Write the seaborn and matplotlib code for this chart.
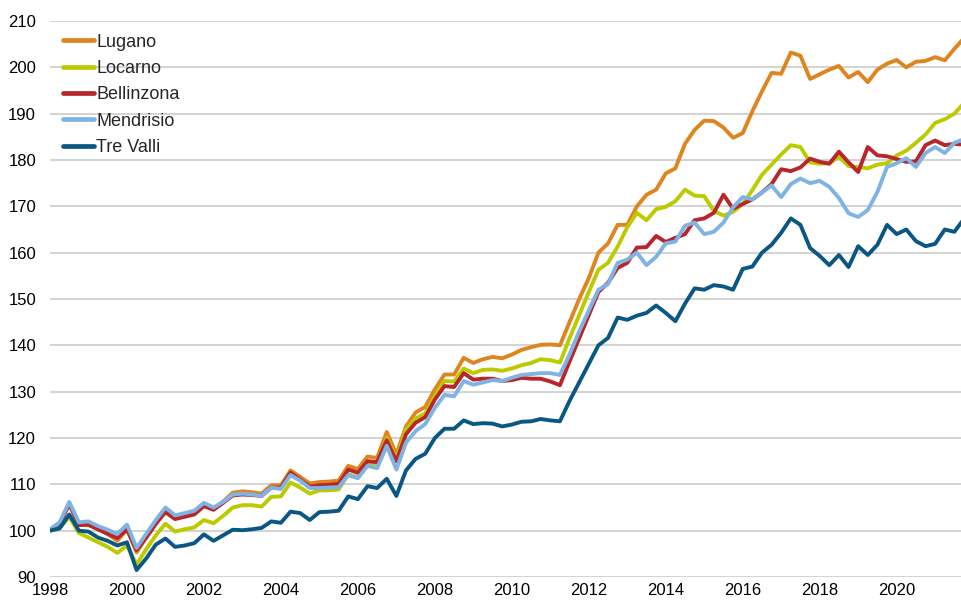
import numpy as np
import pandas as pd
import matplotlib
matplotlib.use("Agg")
import matplotlib.pyplot as plt
import seaborn as sns

# quarterly index values, 1998 Q1 = 100
years = np.arange(1998, 2022, 0.25)

lugano = [100.2, 101.5, 105.8, 101.3, 101.2, 100.3, 99.3, 97.8, 100.3, 95.3, 98.5, 101.5,
          104.3, 102.7, 103.2, 103.8, 105.5, 104.7, 106.3, 108.2, 108.5, 108.3, 108.0, 109.8,
          109.8, 113.0, 111.6, 110.2, 110.5, 110.6, 110.8, 114.0, 113.3, 116.0, 115.7, 121.3,
          116.5, 122.5, 125.5, 126.7, 130.5, 133.7, 133.7, 137.3, 136.2, 137.0, 137.5, 137.2,
          138.0, 139.0, 139.6, 140.1, 140.2, 140.0, 145.0, 150.0, 154.5, 160.0, 162.0, 166.0,
          166.0, 170.0, 172.5, 173.6, 177.1, 178.2, 183.5, 186.5, 188.5, 188.4, 187.0, 184.8,
          185.8, 190.5, 194.8, 198.8, 198.6, 203.2, 202.5, 197.5, 198.5, 199.5, 200.3, 197.8,
          199.0, 196.8, 199.5, 200.8, 201.6, 200.0, 201.2, 201.4, 202.2, 201.5, 204.0, 206.3]

locarno = [100.0, 100.5, 103.0, 99.5, 98.5, 97.5, 96.5, 95.2, 96.8, 92.7, 96.0, 99.0,
           101.5, 99.8, 100.3, 100.7, 102.3, 101.6, 103.2, 105.0, 105.5, 105.5, 105.2, 107.3,
           107.4, 110.4, 109.3, 108.0, 108.7, 108.7, 108.9, 112.2, 111.5, 114.6, 114.4, 120.0,
           115.5, 121.8, 124.2, 125.3, 129.0, 132.3, 132.2, 135.0, 134.0, 134.7, 134.8, 134.5,
           135.0, 135.7, 136.2, 137.0, 136.8, 136.3, 141.5, 146.5, 151.5, 156.3, 157.8, 161.3,
           165.5, 168.6, 167.0, 169.4, 169.9, 171.1, 173.6, 172.3, 172.2, 169.0, 168.0, 168.8,
           170.5, 173.5, 176.8, 179.0, 181.2, 183.2, 182.8, 179.5, 179.2, 179.3, 180.7, 178.7,
           178.5, 178.2, 179.0, 179.3, 181.0, 182.0, 183.7, 185.5, 188.0, 188.8, 190.0, 192.3]

bellinzona = [100.2, 101.5, 105.8, 101.2, 101.3, 100.3, 99.3, 98.4, 100.3, 95.8, 98.5, 101.5,
              104.0, 102.5, 103.0, 103.5, 105.3, 104.5, 106.0, 107.6, 107.8, 107.7, 107.5, 109.3,
              109.3, 112.5, 111.0, 109.5, 109.8, 109.9, 110.1, 113.2, 112.5, 115.0, 114.8, 119.5,
              115.0, 120.8, 123.3, 124.5, 128.3, 131.2, 131.0, 134.0, 132.6, 132.8, 132.8, 132.3,
              132.5, 133.0, 132.8, 132.8, 132.2, 131.4, 136.5, 141.5, 146.5, 151.5, 153.5, 156.7,
              157.8, 161.1, 161.2, 163.6, 162.3, 163.2, 164.0, 167.0, 167.4, 168.6, 172.5, 169.5,
              170.5, 171.5, 173.0, 174.8, 178.0, 177.6, 178.4, 180.3, 179.6, 179.2, 181.8, 179.5,
              177.4, 182.8, 181.0, 180.8, 180.2, 179.6, 179.7, 183.2, 184.2, 183.2, 183.5, 183.3]

mendrisio = [100.3, 101.8, 106.2, 101.8, 102.0, 101.0, 100.2, 99.3, 101.3, 96.3, 99.3, 102.3,
             105.0, 103.3, 103.8, 104.3, 106.0, 105.0, 106.2, 107.8, 108.0, 107.8, 107.5, 109.3,
             109.0, 112.0, 110.8, 109.2, 109.2, 109.3, 109.4, 112.0, 111.3, 114.0, 113.5, 118.3,
             113.2, 119.0, 121.5, 123.0, 126.5, 129.3, 129.0, 132.3, 131.5, 132.0, 132.5, 132.3,
             133.0, 133.6, 133.8, 134.0, 134.0, 133.6, 138.0, 143.0, 147.5, 152.0, 153.2, 157.8,
             158.5, 160.0, 157.3, 159.1, 162.0, 162.4, 165.8, 166.5, 164.0, 164.5, 166.5, 169.8,
             172.0, 171.5, 173.0, 174.5, 172.0, 174.8, 176.0, 175.0, 175.5, 174.2, 171.8, 168.5,
             167.7, 169.2, 173.1, 178.5, 179.3, 180.4, 178.5, 181.5, 182.8, 181.5, 183.7, 184.5]

tre_valli = [100.0, 100.5, 103.5, 100.0, 99.8, 98.5, 97.8, 96.8, 97.5, 91.5, 94.0, 97.0,
             98.3, 96.5, 96.8, 97.3, 99.2, 97.8, 99.0, 100.2, 100.1, 100.3, 100.6, 102.0,
             101.7, 104.1, 103.8, 102.3, 104.0, 104.1, 104.3, 107.4, 106.8, 109.6, 109.2, 111.2,
             107.5, 113.0, 115.5, 116.6, 120.0, 122.0, 122.0, 123.8, 123.0, 123.2, 123.1, 122.5,
             122.9, 123.5, 123.6, 124.1, 123.8, 123.6, 128.0, 132.0, 136.0, 140.0, 141.6, 146.0,
             145.5, 146.4, 147.0, 148.6, 147.0, 145.2, 149.0, 152.3, 152.0, 153.0, 152.7, 152.0,
             156.5, 157.0, 160.0, 161.7, 164.3, 167.4, 166.0, 161.0, 159.3, 157.3, 159.5, 156.9,
             161.4, 159.5, 161.7, 166.0, 164.0, 165.0, 162.5, 161.4, 161.9, 165.0, 164.5, 167.3]

regions = ["Lugano", "Locarno", "Bellinzona", "Mendrisio", "Tre Valli"]
colors = ["#DF8520", "#BCCB00", "#B8262B", "#7FB3E3", "#0A5784"]

df = pd.DataFrame({
    "year": np.tile(years, 5),
    "value": lugano + locarno + bellinzona + mendrisio + tre_valli,
    "region": np.repeat(regions, len(years)),
})

sns.set_theme(style="white")
plt.rcParams["font.family"] = ["Liberation Sans", "DejaVu Sans"]

fig = plt.figure(figsize=(9.61, 6.03), dpi=100)
ax = fig.add_axes([50 / 961, 26 / 603, 914 / 961, 556 / 603])

sns.lineplot(data=df, x="year", y="value", hue="region", hue_order=regions,
             palette=dict(zip(regions, colors)), linewidth=2.8, ax=ax)

ax.set_xlim(1998, 2021.75)
ax.set_ylim(90, 210)
ax.set_yticks(range(90, 211, 10))
ax.set_xticks(range(1998, 2021, 2))
ax.set_xlabel("")
ax.set_ylabel("")
ax.grid(axis="y", color="#C8C8C8", linewidth=1.1)
ax.set_axisbelow(True)
for s in ["top", "right", "left", "bottom"]:
    ax.spines[s].set_visible(False)
ax.tick_params(axis="both", length=0, labelsize=12, colors="black")
ax.tick_params(axis="y", pad=10)
ax.tick_params(axis="x", pad=4)

leg = ax.legend(loc="upper left", bbox_to_anchor=(0.0, 1.0), frameon=False,
                fontsize=13, handlelength=1.75, handletextpad=0.1, labelspacing=0.52,
                borderaxespad=0.3)
for line in leg.get_lines():
    line.set_linewidth(3.4)

fig.savefig("out.png", dpi=100)
